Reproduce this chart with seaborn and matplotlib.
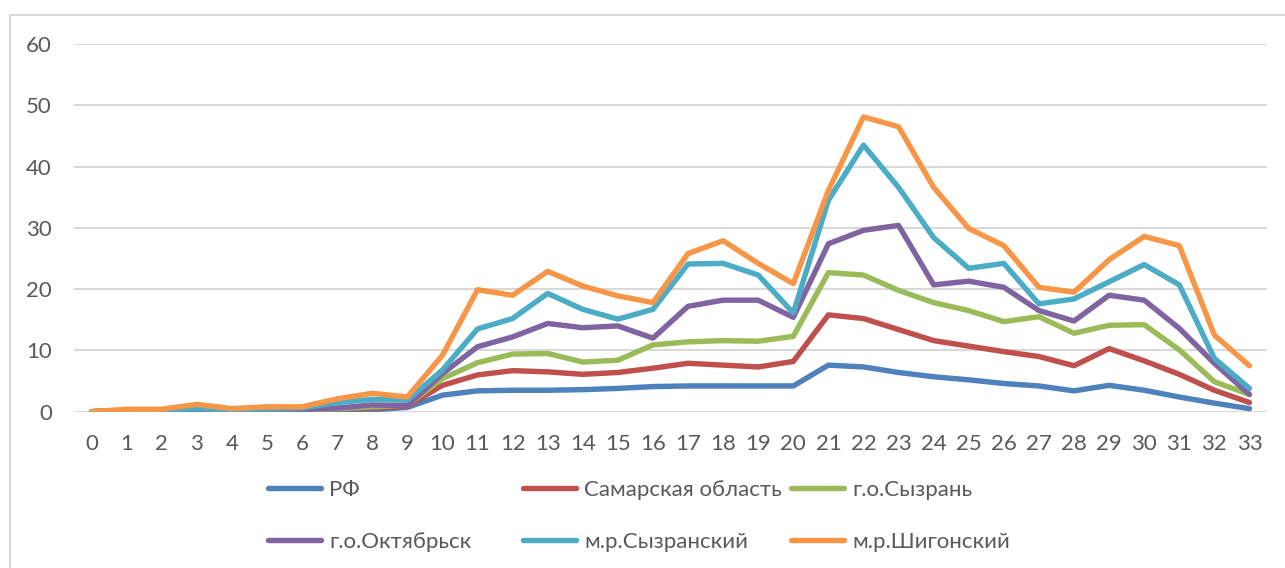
import numpy as np
import pandas as pd
import matplotlib
matplotlib.use("Agg")
import matplotlib.pyplot as plt
import seaborn as sns
from matplotlib.lines import Line2D

weeks = list(range(34))

rf = [0, 0.2, 0.2, 0.1, 0.3, 0.4, 0.4, 0.2, 0.3, 0.7, 2.7, 3.4, 3.5, 3.5, 3.6, 3.8, 4.1,
      4.2, 4.2, 4.2, 4.2, 7.6, 7.3, 6.4, 5.7, 5.2, 4.6, 4.2, 3.4, 4.3, 3.5, 2.4, 1.4, 0.5]
samara = [0, 0.2, 0.2, 0.1, 0.3, 0.5, 0.4, 0.5, 0.6, 0.9, 4.3, 6.0, 6.7, 6.5, 6.1, 6.4, 7.1,
          7.9, 7.6, 7.3, 8.2, 15.8, 15.2, 13.4, 11.6, 10.7, 9.8, 9.0, 7.5, 10.3, 8.3, 6.1, 3.5, 1.5]
syzran = [0, 0.2, 0.2, 0.1, 0.3, 0.5, 0.4, 0.5, 0.8, 1.1, 5.4, 8.0, 9.4, 9.5, 8.1, 8.4, 10.9,
          11.4, 11.6, 11.5, 12.3, 22.7, 22.3, 19.8, 17.8, 16.5, 14.7, 15.5, 12.8, 14.1, 14.2, 10.1, 4.9, 2.8]
oktyabrsk = [0, 0.2, 0.2, 0.1, 0.3, 0.5, 0.4, 0.6, 1.1, 1.0, 6.2, 10.6, 12.2, 14.4, 13.7, 14.0, 12.0,
             17.2, 18.2, 18.2, 15.4, 27.4, 29.6, 30.4, 20.7, 21.3, 20.3, 16.5, 14.8, 19.0, 18.2, 13.6, 7.9, 2.8]
syzr_mr = [0, 0.2, 0.2, 0.5, 0.3, 0.5, 0.6, 1.5, 2.0, 1.9, 6.8, 13.5, 15.2, 19.3, 16.7, 15.1, 16.7,
           24.1, 24.2, 22.3, 16.1, 34.5, 43.5, 36.6, 28.4, 23.4, 24.2, 17.6, 18.4, 21.2, 24.0, 20.7, 8.7, 3.8]
shigony = [0, 0.4, 0.4, 1.2, 0.5, 0.8, 0.8, 2.1, 3.0, 2.4, 9.2, 19.9, 19.0, 22.9, 20.5, 18.9, 17.8,
           25.8, 27.9, 24.2, 20.9, 36.1, 48.1, 46.5, 36.6, 29.9, 27.1, 20.3, 19.5, 24.8, 28.6, 27.1, 12.5, 7.5]

names = ["РФ", "Самарская область", "г.о.Сызрань", "г.о.Октябрьск", "м.р.Сызранский", "м.р.Шигонский"]
series = [rf, samara, syzran, oktyabrsk, syzr_mr, shigony]
colors = ["#4F81BD", "#C0504D", "#9BBB59", "#8064A2", "#4BACC6", "#F79646"]

df = pd.concat([pd.DataFrame({"week": weeks, "value": s, "name": n}) for n, s in zip(names, series)])

sns.set_style("white")
plt.rcParams["font.family"] = ["Lato", "DejaVu Sans"]

fig = plt.figure(figsize=(12.85, 5.68), dpi=100)
ax = fig.add_axes([74 / 1285, 1 - 411.7 / 568, 1193 / 1285, (411.7 - 44) / 568])

sns.lineplot(data=df, x="week", y="value", hue="name", hue_order=names,
             palette=colors, linewidth=3.9, ax=ax, legend=False)
for line in ax.get_lines():
    line.set_solid_joinstyle("round")
    line.set_solid_capstyle("round")

ax.set_xlim(-0.5, 33.5)
ax.set_ylim(0, 60)
ax.set_yticks(range(0, 61, 10))
ax.set_xticks(weeks)
ax.grid(axis="y", color="#D9D9D9", linewidth=1.5)
ax.set_axisbelow(True)
for s in ax.spines.values():
    s.set_visible(False)
ax.tick_params(axis="both", length=0, labelsize=16, colors="#595959")
ax.tick_params(axis="y", pad=16)
ax.tick_params(axis="x", pad=16)
ax.set_xlabel("")
ax.set_ylabel("")

# legend: one small legend per column
col_x = [268, 523, 791]
for i in range(3):
    idx = [i, i + 3]
    handles = [Line2D([0], [0], color=colors[k], linewidth=3.9, solid_capstyle="round") for k in idx]
    leg = fig.legend(handles, [names[k] for k in idx], loc="upper left",
                     bbox_to_anchor=(col_x[i] / 1285, 1 - 480 / 568),
                     frameon=False, fontsize=16, handlelength=2.4, handletextpad=0.35,
                     labelspacing=1.45, borderpad=0, borderaxespad=0)
    for t in leg.get_texts():
        t.set_color("#595959")

# chart area border
fig.add_artist(Line2D([10 / 1285, 1.0], [1 - 15 / 568, 1 - 15 / 568], transform=fig.transFigure,
                      color="#D9D9D9", linewidth=1.5))
fig.add_artist(Line2D([10 / 1285, 10 / 1285], [0, 1 - 15 / 568], transform=fig.transFigure,
                      color="#D9D9D9", linewidth=1.5))

plt.savefig("out.png", dpi=100)
